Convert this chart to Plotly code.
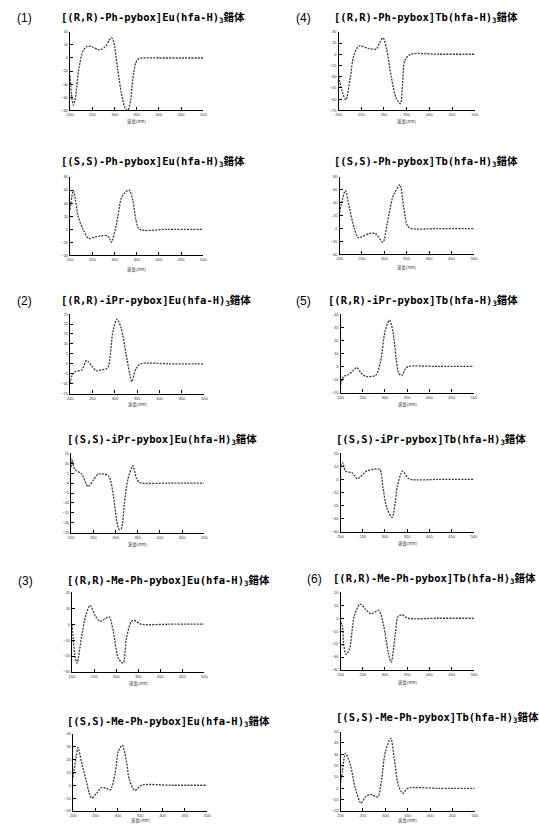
import plotly.graph_objects as go

W, H = 539, 825

# ---------------- data (wavelength nm, CD) ----------------
titles = [
    "[(R,R)-Ph-pybox]Eu(hfa-H)<sub>3</sub>錯体",
    "[(S,S)-Ph-pybox]Eu(hfa-H)<sub>3</sub>錯体",
    "[(R,R)-iPr-pybox]Eu(hfa-H)<sub>3</sub>錯体",
    "[(S,S)-iPr-pybox]Eu(hfa-H)<sub>3</sub>錯体",
    "[(R,R)-Me-Ph-pybox]Eu(hfa-H)<sub>3</sub>錯体",
    "[(S,S)-Me-Ph-pybox]Eu(hfa-H)<sub>3</sub>錯体",
    "[(R,R)-Ph-pybox]Tb(hfa-H)<sub>3</sub>錯体",
    "[(S,S)-Ph-pybox]Tb(hfa-H)<sub>3</sub>錯体",
    "[(R,R)-iPr-pybox]Tb(hfa-H)<sub>3</sub>錯体",
    "[(S,S)-iPr-pybox]Tb(hfa-H)<sub>3</sub>錯体",
    "[(R,R)-Me-Ph-pybox]Tb(hfa-H)<sub>3</sub>錯体",
    "[(S,S)-Me-Ph-pybox]Tb(hfa-H)<sub>3</sub>錯体",
]
panel_labels = ["(1)", "(2)", "(3)", "(4)", "(5)", "(6)"]
xlabel = "波長(nm)"
x_ticks = [200, 250, 300, 350, 400, 450, 500]

wl_1 = [200, 203, 207, 212, 220, 230, 239, 250, 262, 270, 280, 288, 293, 298, 307, 318, 325, 330, 336, 341, 348, 355, 360, 400, 450, 500]
cd_1 = [-27, -55, -72, -60, -15, 12, 18, 17, 13, 13, 18, 27, 31, 25, -17, -63, -78, -80, -65, -33, -7, -1, 0, 0, 0, 0]
yt_1 = [-80, -60, -40, -20, 0, 20, 40]

wl_2 = [200, 207, 212, 218, 229, 242, 255, 270, 284, 289, 293, 304, 315, 322, 333, 341, 348, 356, 420, 500]
cd_2 = [30, 59, 45, 20, 0, -14, -12, -10, -10, -14, -20, 7, 47, 55, 60, 45, 15, 0, 0, 0]
yt_2 = [-40, -20, 0, 20, 40, 60, 80]

wl_3 = [200, 204, 211, 226, 237, 248, 259, 270, 281, 286, 296, 305, 314, 325, 333, 338, 347, 358, 420, 500]
cd_3 = [-10, -6, -4, -3, 1.7, -1, -3.5, -3, -2.5, -1, 16.7, 22.5, 18, 5, -5, -9, -2.5, 0, 0, 0]
yt_3 = [-15, -10, -5, 0, 5, 10, 15, 20, 25]

wl_4 = [200, 202, 208, 224, 238, 250, 261, 284, 295, 302, 308, 313, 320, 328, 339, 347, 354, 420, 500]
cd_4 = [8, 12, 7, 4.5, -1.7, 1.5, 4.5, 3.7, -6, -18, -23.3, -23, -10, 2, 8.7, 2.5, 0.3, 0, 0]
yt_4 = [-25, -20, -15, -10, -5, 0, 5, 10, 15]

wl_5 = [200, 206, 211, 222, 231, 241, 252, 263, 275, 284, 293, 305, 316, 323, 334, 340, 357, 420, 500]
cd_5 = [0, -19, -24.5, -7, 5.6, 11.9, 5.6, 1.9, 3.5, 4.6, -3.8, -21.5, -24.5, -9, 1.5, 2.5, 0, 0, 0]
yt_5 = [-30, -20, -10, 0, 10, 20]

wl_6 = [200, 207, 211, 220, 229, 236, 242, 253, 264, 275, 283, 294, 301, 310, 319, 326, 338, 353, 420, 500]
cd_6 = [6, 22.5, 29, 16, 4, -6, -10, -6, -1.75, -2.5, -3.75, 9, 26, 31, 19, 4, -4, 0, 0, 0]
yt_6 = [-20, -10, 0, 10, 20, 30, 40]

wl_7 = [200, 209, 216, 226, 233, 245, 265, 283, 290, 298, 306, 316, 327, 336, 341, 346, 359, 420, 500]
cd_7 = [-30, -52, -61, -30, -3, 11, 8, 7, 15, 22, 6, -30, -59, -66, -39, -8, 0, 0, 0]
yt_7 = [-75, -60, -45, -30, -15, 0, 15, 30]

wl_8 = [200, 213, 222, 233, 242, 266, 280, 297, 306, 318, 323, 335, 343, 352, 361, 420, 500]
cd_8 = [25, 58.7, 32, 0, -13.8, -7.6, -7.6, -21, 6.5, 47, 55, 68, 34, 4, 0, 0, 0]
yt_8 = [-40, -20, 0, 20, 40, 60, 80]

wl_9 = [200, 202, 207, 217, 226, 237, 246, 257, 279, 290, 300, 310, 318, 325, 331, 338, 346, 353, 420, 500]
cd_9 = [-14, -11.4, -7.6, -6.3, -3.8, -0.8, -5, -7.6, -6.8, 3.8, 26.6, 35.4, 26.6, 6.3, -5, -7, -1.8, 0, 0, 0]
yt_9 = [-20, -10, 0, 10, 20, 30, 40]

wl_10 = [200, 205, 211, 226, 238, 259, 288, 295, 304, 316, 323, 328, 340, 354, 420, 500]
cd_10 = [10, 12.7, 6.4, 5, 0.5, 6.4, 7.6, -5, -21.7, -29, -17.9, -5, 6.4, 0.5, 0, 0]
yt_10 = [-40, -30, -20, -10, 0, 10, 20]

wl_11 = [200, 204, 207, 212, 220, 231, 244, 256, 268, 286, 297, 307, 314, 323, 329, 338, 352, 420, 500]
cd_11 = [-3, -5.7, -20, -28, -24, 2, 11, 7, 3.4, 6, -5.7, -26, -34, -13, 0.8, 2.6, 0, 0, 0]
yt_11 = [-40, -30, -20, -10, 0, 10, 20]

wl_12 = [200, 204, 211, 222, 233, 246, 256, 266, 283, 291, 300, 312, 320, 329, 339, 350, 420, 500]
cd_12 = [5, 14.7, 31, 20.6, 0, -13, -7.4, -5.3, -7.4, 5.9, 32, 44, 26.5, 3, -4.4, 0, 0, 0]
yt_12 = [-20, -10, 0, 10, 20, 30, 40, 50]

wls = [wl_1, wl_2, wl_3, wl_4, wl_5, wl_6, wl_7, wl_8, wl_9, wl_10, wl_11, wl_12]
cds = [cd_1, cd_2, cd_3, cd_4, cd_5, cd_6, cd_7, cd_8, cd_9, cd_10, cd_11, cd_12]
yts = [yt_1, yt_2, yt_3, yt_4, yt_5, yt_6, yt_7, yt_8, yt_9, yt_10, yt_11, yt_12]

# ---------------- layout geometry (pixels: left, right, top, bottom) ----------------
boxes = [
    (68, 203, 29, 108), (68, 203, 175, 254), (68, 204, 313, 393),
    (69, 204, 453, 533), (70, 204, 593, 673), (71, 207, 735, 813),
    (340, 478, 29, 108), (341, 477, 175, 253), (342, 477, 313, 392),
    (342, 477, 453, 532), (342, 477, 593, 671), (342, 478, 733, 813),
]
title_pos = [(57, 15), (57, 160), (57, 300), (63, 440), (63, 582), (63, 723),
             (333, 15), (333, 160), (327, 300), (335, 440), (332, 580), (335, 719)]
xlabel_y = [119, 268, 404, 545, 685, 822, 119, 266, 404, 544, 684, 822]
label_pos = [(12, 15), (12, 300), (13, 582), (295, 15), (295, 300), (306, 580)]

fig = go.Figure()
layout = dict(
    width=W, height=H, margin=dict(l=0, r=0, t=0, b=0),
    paper_bgcolor="white", plot_bgcolor="white", showlegend=False,
)
annotations = []

axis_common = dict(showline=True, linecolor="black", linewidth=1.4, showgrid=False,
                   zeroline=False, ticks="inside", ticklen=3, tickwidth=1, tickcolor="black",
                   tickfont=dict(size=4, color="#333", family="Liberation Sans"))

for i in range(12):
    n = i + 1
    xa = "x" if n == 1 else f"x{n}"
    ya = "y" if n == 1 else f"y{n}"
    l, r, t, b = boxes[i]
    fig.add_trace(go.Scatter(
        x=wls[i], y=cds[i], xaxis=xa, yaxis=ya, mode="lines",
        line=dict(color="#3a3a3a", width=1.3, dash="2px,1.2px", shape="spline", smoothing=0.8),
        hoverinfo="skip"))
    yt = yts[i]
    layout[f"xaxis{n}"] = dict(axis_common, domain=[l / W, r / W], anchor=ya,
                               range=[200, 500], tickvals=x_ticks)
    layout[f"yaxis{n}"] = dict(axis_common, domain=[1 - b / H, 1 - t / H], anchor=xa,
                               range=[min(yt), max(yt)], tickvals=yt)
    tx, ty = title_pos[i]
    annotations.append(dict(
        text="<b>" + titles[i] + "</b>", x=tx / W, y=1 - ty / H, xref="paper", yref="paper",
        xanchor="left", yanchor="middle", showarrow=False,
        font=dict(family="DejaVu Sans Mono, Noto Sans CJK JP", size=10.5, color="black")))
    annotations.append(dict(
        text=xlabel, x=(l + r) / 2 / W, y=1 - xlabel_y[i] / H, xref="paper", yref="paper",
        xanchor="center", yanchor="middle", showarrow=False,
        font=dict(family="Noto Sans CJK JP", size=4.5, color="#333")))

for k, lab in enumerate(panel_labels):
    px, py = label_pos[k]
    annotations.append(dict(
        text=lab, x=px / W, y=1 - py / H, xref="paper", yref="paper",
        xanchor="left", yanchor="middle", showarrow=False,
        font=dict(family="Liberation Sans", size=12, color="black")))

layout["annotations"] = annotations
fig.update_layout(**layout)
fig.write_html("out.html")
